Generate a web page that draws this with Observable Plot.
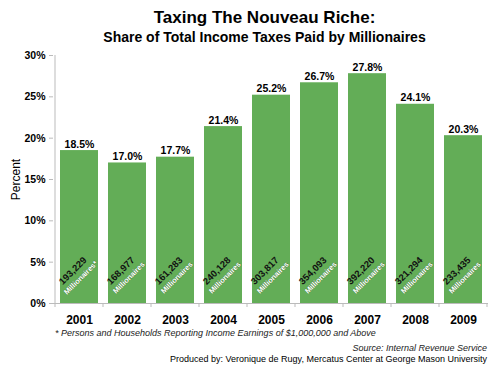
<!DOCTYPE html>
<html>
<head>
<meta charset="utf-8">
<script src="https://cdn.jsdelivr.net/npm/d3@7"></script>
<script src="https://cdn.jsdelivr.net/npm/@observablehq/plot@0.6"></script>
<style>
  body { margin: 0; background: #fff; font-family: "Liberation Sans", Arial, sans-serif; color: #000; }
  #wrap { width: 500px; height: 369px; position: relative; overflow: hidden; }
  .title { padding: 7px 0 0 29px; text-align: center; font-weight: bold; font-size: 17px; line-height: 22px; }
  .subtitle { padding-left: 29px; text-align: center; font-weight: bold; font-size: 14px; line-height: 17px; }
  .foot { font-size: 9px; line-height: 11px; font-style: italic; color: #222; padding-left: 55px; }
  .source { font-size: 9px; line-height: 11px; font-style: italic; color: #222; text-align: right; padding-right: 13px; margin-top: 4px; }
  .produced { font-size: 9px; line-height: 11px; color: #000; text-align: right; padding-right: 13px; }
  svg g[aria-label="y-axis tick"] path { stroke: #bbb; }
</style>
</head>
<body>
<div id="wrap">
  <div class="title">Taxing The Nouveau Riche:</div>
  <div class="subtitle">Share of Total Income Taxes Paid by Millionaires</div>
  <div id="chart"></div>
  <div class="foot">* Persons and Households Reporting Income Earnings of $1,000,000 and Above</div>
  <div class="source">Source: Internal Revenue Service</div>
  <div class="produced">Produced by: Veronique de Rugy, Mercatus Center at George Mason University</div>
</div>
<script>
const years = ["2001", "2002", "2003", "2004", "2005", "2006", "2007", "2008", "2009"];
const shares = [18.5, 17.0, 17.7, 21.4, 25.2, 26.7, 27.8, 24.1, 20.3];
const millionaires = [193229, 168977, 161283, 240128, 303817, 354093, 392220, 321294, 233435];
const countSuffix = ["Millionaires*", "Millionaires", "Millionaires", "Millionaires", "Millionaires", "Millionaires", "Millionaires", "Millionaires", "Millionaires"];
const yTicks = [0, 5, 10, 15, 20, 25, 30];

const data = years.map((year, i) => ({
  year,
  share: shares[i],
  count: millionaires[i],
  suffix: countSuffix[i]
}));

const green = "#63ad57";
const fmtCount = d3.format(",");

const plot = Plot.plot({
  width: 500,
  height: 282,
  marginTop: 9,
  marginBottom: 25,
  marginLeft: 53,
  marginRight: 12,
  style: { fontFamily: "'Liberation Sans', Arial, sans-serif", background: "#fff", color: "#000", overflow: "visible" },
  x: { domain: years, paddingInner: 0.21, paddingOuter: 0.105, label: null },
  y: { domain: [0, 30], label: null },
  marks: [
    Plot.barY(data, { x: "year", y: "share", fill: green }),
    Plot.ruleY([0], { stroke: "#bbb" }),
    Plot.axisY({
      ticks: yTicks,
      tickSize: 4,
      tickPadding: 4,
      tickFormat: d => d + "%",
      fontSize: 10.5,
      fontWeight: "bold",
      label: "Percent",
      labelAnchor: "center",
      labelArrow: "none",
      labelOffset: 42
    }),
    Plot.axisX({
      tickSize: 0,
      tickPadding: 12,
      fontSize: 12,
      fontWeight: "bold",
      label: null
    }),
    Plot.text(data, {
      x: "year", y: "share",
      text: d => d.share.toFixed(1) + "%",
      lineAnchor: "bottom", dy: -3,
      fontSize: 10.5, fontWeight: "bold", fill: "#000"
    }),
    Plot.text(data, {
      x: "year",
      text: d => fmtCount(d.count),
      frameAnchor: "bottom",
      rotate: -45,
      dx: -4.5, dy: -30.5,
      fontSize: 9.5, fontWeight: "bold", fill: "#111"
    }),
    Plot.text(data, {
      x: "year",
      text: "suffix",
      frameAnchor: "bottom",
      rotate: -45,
      dx: 3, dy: -24,
      fontSize: 7.5, fontWeight: "bold", fill: "#fff",
      stroke: "#3d7a35", strokeWidth: 0.6, paintOrder: "stroke"
    })
  ]
});

document.getElementById("chart").appendChild(plot);

// y-axis line and boundary ticks on the x-axis, from the plot's own scales
const xs = plot.scale("x");
const ys = plot.scale("y");
const svg = d3.select(plot);
const step = xs.step, bw = xs.bandwidth;
const left = xs.apply(years[0]) - (step - bw) / 2;
const y0 = ys.apply(0), y30 = ys.apply(30);
svg.append("line")
  .attr("x1", left).attr("x2", left)
  .attr("y1", y30).attr("y2", y0)
  .attr("stroke", "#bbb");
const bounds = d3.range(years.length + 1).map(i => left + i * step);
svg.append("g").selectAll("line").data(bounds).join("line")
  .attr("x1", d => d).attr("x2", d => d)
  .attr("y1", y0).attr("y2", y0 + 4)
  .attr("stroke", "#bbb");
// Percent label styling
svg.selectAll('g[aria-label="y-axis label"] text').attr("font-size", 12).attr("font-weight", "normal");
</script>
</body>
</html>
